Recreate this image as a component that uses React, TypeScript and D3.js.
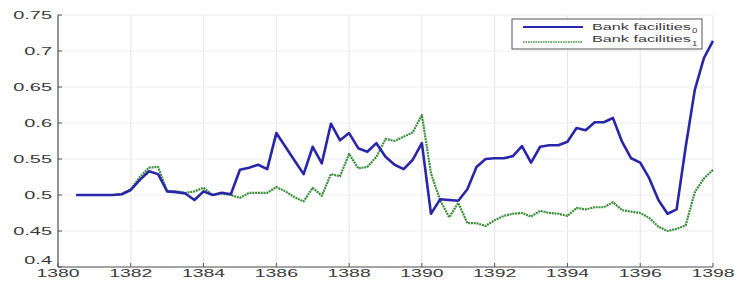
import React from "react";
import * as d3 from "d3";

const periods = [
  1380.5, 1380.75, 1381, 1381.25, 1381.5, 1381.75, 1382, 1382.25, 1382.5, 1382.75,
  1383, 1383.25, 1383.5, 1383.75, 1384, 1384.25, 1384.5, 1384.75, 1385, 1385.25,
  1385.5, 1385.75, 1386, 1386.25, 1386.5, 1386.75, 1387, 1387.25, 1387.5, 1387.75,
  1388, 1388.25, 1388.5, 1388.75, 1389, 1389.25, 1389.5, 1389.75, 1390, 1390.25,
  1390.5, 1390.75, 1391, 1391.25, 1391.5, 1391.75, 1392, 1392.25, 1392.5, 1392.75,
  1393, 1393.25, 1393.5, 1393.75, 1394, 1394.25, 1394.5, 1394.75, 1395, 1395.25,
  1395.5, 1395.75, 1396, 1396.25, 1396.5, 1396.75, 1397, 1397.25, 1397.5, 1397.75,
  1398,
];

const bank0 = [
  0.5, 0.5, 0.5, 0.5, 0.5, 0.501, 0.507, 0.521, 0.533, 0.529,
  0.505, 0.504, 0.502, 0.493, 0.505, 0.5, 0.503, 0.501, 0.535, 0.538,
  0.542, 0.536, 0.586, 0.567, 0.548, 0.529, 0.567, 0.544, 0.599, 0.576,
  0.586, 0.565, 0.56, 0.572, 0.553, 0.542, 0.536, 0.549, 0.572, 0.474,
  0.494, 0.493, 0.492, 0.508, 0.539, 0.55, 0.551, 0.551, 0.554, 0.568,
  0.545, 0.567, 0.569, 0.569, 0.574, 0.593, 0.59, 0.601, 0.601, 0.607,
  0.574, 0.551, 0.545, 0.523, 0.493, 0.474, 0.48, 0.567, 0.646, 0.69,
  0.714,
];

const bank1 = [
  0.5, 0.5, 0.5, 0.5, 0.5, 0.501, 0.508, 0.525, 0.538, 0.539,
  0.505, 0.505, 0.503, 0.505, 0.51, 0.5, 0.502, 0.5, 0.496, 0.503,
  0.503, 0.503, 0.511, 0.505, 0.497, 0.491, 0.51, 0.499, 0.529, 0.526,
  0.557, 0.537, 0.539, 0.553, 0.578, 0.575, 0.581, 0.587, 0.611, 0.53,
  0.493, 0.469, 0.489, 0.461, 0.461, 0.457, 0.465, 0.471, 0.474, 0.475,
  0.47, 0.478, 0.475, 0.474, 0.471, 0.482, 0.48, 0.483, 0.483, 0.49,
  0.479, 0.477, 0.475, 0.468, 0.456, 0.45, 0.453, 0.458, 0.504, 0.523,
  0.535,
];

const xTicks = [1380, 1382, 1384, 1386, 1388, 1390, 1392, 1394, 1396, 1398];
const yTicks = [0.4, 0.45, 0.5, 0.55, 0.6, 0.65, 0.7, 0.75];
const yTickLabels = ["0.4", "0.45", "0.5", "0.55", "0.6", "0.65", "0.7", "0.75"];
const seriesNames = ["Bank facilities", "Bank facilities"];
const seriesSubs = ["0", "1"];

const W = 735;
const H = 283;
const left = 58;
const right = 713;
const top = 15;
const bottom = 267;

const BLUE = "#2a26a8";
const GREEN = "#3a8e3a";
const FONT = "'Liberation Sans', Arial, sans-serif";

function SText({ x, y, sx, anchor, size, children, fill = "#3a3a3a" }: any) {
  return (
    <text
      transform={`translate(${x},${y}) scale(${sx},1)`}
      textAnchor={anchor}
      fontFamily={FONT}
      fontSize={size}
      fill={fill}
    >
      {children}
    </text>
  );
}

export default function App() {
  const x = d3.scaleLinear().domain([1380, 1398]).range([left, right]);
  const y = d3.scaleLinear().domain([0.4, 0.75]).range([bottom, top]);

  const line = d3
    .line<number>()
    .x((_, i) => x(periods[i]))
    .y((d) => y(d));

  return (
    <svg
      width={W}
      height={H}
      style={{ position: "absolute", left: 0, top: 0, background: "#fff" }}
    >
      <rect x={0} y={0} width={W} height={H} fill="#fff" />
      {/* grid */}
      {xTicks.map((t) => (
        <line
          key={"gx" + t}
          x1={x(t)}
          x2={x(t)}
          y1={top}
          y2={bottom}
          stroke="#e4e4e4"
          strokeWidth={1}
        />
      ))}
      {yTicks.map((t) => (
        <line
          key={"gy" + t}
          x1={left}
          x2={right}
          y1={y(t)}
          y2={y(t)}
          stroke="#ececec"
          strokeWidth={1}
        />
      ))}
      {/* axes */}
      <line x1={left} x2={left} y1={top} y2={bottom} stroke="#555" strokeWidth={1.2} />
      <line x1={left} x2={right} y1={bottom} y2={bottom} stroke="#555" strokeWidth={1.2} />
      {xTicks.map((t) => (
        <line key={"tx" + t} x1={x(t)} x2={x(t)} y1={bottom} y2={bottom - 4} stroke="#555" />
      ))}
      {yTicks.map((t) => (
        <line key={"ty" + t} x1={left} x2={left + 4} y1={y(t)} y2={y(t)} stroke="#555" />
      ))}
      {/* tick labels */}
      {yTicks.map((t, i) => (
        <SText
          key={"ly" + t}
          x={52}
          y={i === 0 ? 263.5 : y(t) + 4}
          sx={1.9}
          anchor="end"
          size={10.5}
        >
          {yTickLabels[i]}
        </SText>
      ))}
      {xTicks.map((t) => (
        <SText key={"lx" + t} x={x(t)} y={277} sx={1.85} anchor="middle" size={10.5}>
          {String(t)}
        </SText>
      ))}
      {/* series */}
      <path
        d={line(bank1) || ""}
        fill="none"
        stroke={GREEN}
        strokeWidth={2.2}
        strokeDasharray="2,0.8"
        strokeLinejoin="round"
      />
      <path
        d={line(bank0) || ""}
        fill="none"
        stroke={BLUE}
        strokeWidth={2.6}
        strokeLinejoin="round"
      />
      {/* legend */}
      <rect x={512} y={19} width={190} height={30} fill="#fff" stroke="#555" strokeWidth={1} />
      <line x1={523} x2={583} y1={27} y2={27} stroke={BLUE} strokeWidth={2.2} />
      <line x1={523} x2={583} y1={42} y2={42} stroke={GREEN} strokeWidth={1.6} strokeDasharray="1.5,1" />
      {seriesNames.map((n, i) => (
        <g key={"lg" + i}>
          <SText x={592} y={i === 0 ? 29.5 : 42} sx={1.8} anchor="start" size={9}>
            {n}
          </SText>
          <SText x={692} y={i === 0 ? 33 : 45.5} sx={1.5} anchor="start" size={6.5}>
            {seriesSubs[i]}
          </SText>
        </g>
      ))}
    </svg>
  );
}
